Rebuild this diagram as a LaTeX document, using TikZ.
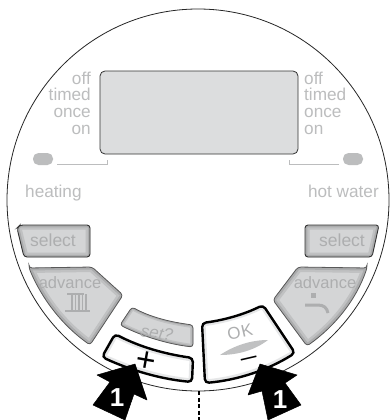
\documentclass[tikz,border=0pt]{standalone}
\usepackage{fontspec}
\setmainfont{Liberation Sans}
\definecolor{labelgrey}{HTML}{BCBDBE}
\definecolor{screengrey}{HTML}{DCDDDE}
\definecolor{keytext}{HTML}{ADAEAF}
\definecolor{keyouter}{HTML}{ABACAD}
\definecolor{keymid}{HTML}{C0C1C2}
\definecolor{keyinner}{HTML}{D4D5D6}
\definecolor{whiteedge}{HTML}{E6E7E8}
\tikzset{
  labeltext/.style={inner sep=0pt,text=labelgrey,font=\fontsize{17.2}{18}\selectfont},
  keylabel/.style={inner sep=0pt,text=keytext,font=\fontsize{16.5}{17}\selectfont},
  bracket/.style={draw=labelgrey,line width=1pt},
  bigarrow/.style={fill=black,draw=black,line width=0.5pt,line join=round},
  arrownum/.style={inner sep=0pt,text=white,font=\fontsize{26}{26}\bfseries\selectfont},
}
% key body: fill, bevel bands kept inside the outline, then the outline
\newcommand{\greykey}[3]{%
  \fill[keyinner,rounded corners=3] #1;
  \begin{scope}
    \clip[rounded corners=3] #1;
    \draw[keymid,line width=2*#3] #1;
    \draw[keyouter,line width=#3] #1;
  \end{scope}
  \draw[#2,rounded corners=3] #1;}
\newcommand{\whitekey}[1]{%
  \fill[white,rounded corners=4] #1;
  \begin{scope}
    \clip[rounded corners=4] #1;
    \draw[whiteedge,line width=7pt] #1;
  \end{scope}
  \draw[black,line width=2.4pt,rounded corners=4] #1;}
\begin{document}
\begin{tikzpicture}[x=1pt,y=-1pt]
  \useasboundingbox (0,0) rectangle (390,420);
  \fill[white] (0,0) rectangle (390,420);
  % case
  \coordinate (centre) at (198,200);
  \draw[black!85,line width=0.8pt] (centre) circle[radius=191];
  \coordinate (dashtop) at (199,391);
  \coordinate (dashend) at (199,420);
  \draw[black,line width=2pt,dash pattern=on 4pt off 2.5pt] (dashtop) -- (dashend);
  % display
  \node[draw=black!80,fill=screengrey,line width=0.8pt,rounded corners=5,minimum width=198pt,minimum height=83pt,inner sep=0pt] (screen) at (199,112.5) {};
  \node[labeltext,anchor=base east] (offheat) at (91,84) {off};
  \node[labeltext,anchor=base east] (timedheat) at (91,100.5) {timed};
  \node[labeltext,anchor=base east] (onceheat) at (91,117.5) {once};
  \node[labeltext,anchor=base east] (onheat) at (91,134) {on};
  \node[labeltext,anchor=base west] (offwater) at (304,84) {off};
  \node[labeltext,anchor=base west] (timedwater) at (304,100.5) {timed};
  \node[labeltext,anchor=base west] (oncewater) at (304,117.5) {once};
  \node[labeltext,anchor=base west] (onwater) at (304,134) {on};
  % lamps
  \node[fill=labelgrey,rounded corners=5.5,minimum width=20pt,minimum height=12pt,inner sep=0pt] (lampheat) at (43,159) {};
  \node[fill=labelgrey,rounded corners=5.5,minimum width=20pt,minimum height=12pt,inner sep=0pt] (lampwater) at (353,159) {};
  \draw[bracket] (57,164) -- (107,164) -- (107,160);
  \draw[bracket] (339,164) -- (289,164) -- (289,160);
  \node[labeltext,anchor=base west] (heating) at (25,197) {heating};
  \node[labeltext,anchor=base east] (hotwater) at (379,197) {hot water};
  % grey keys
  \greykey{(17,228) -- (20,225) -- (90,225) -- (90,257) -- (24,257) -- cycle}{black!80,line width=0.9pt}{4.5pt}
  \greykey{(305,225) -- (379,225) -- (372,257) -- (305,257) -- cycle}{black!80,line width=0.9pt}{4.5pt}
  \greykey{(29,268) -- (92,267) -- (123,295) -- (90,345) .. controls (62,325) and (42,299) .. (29,268) -- cycle}{black!65,line width=0.8pt}{5pt}
  \greykey{(367,268) -- (298,267) -- (273,300) -- (307,346) .. controls (335,326) and (356,300) .. (367,268) -- cycle}{black!65,line width=0.8pt}{5pt}
  \greykey{(132,307) .. controls (150,317) and (170,322) .. (193,325) -- (193,347) .. controls (167,344) and (142,336) .. (120,325) -- cycle}{black!65,line width=0.8pt}{3pt}
  \node[keylabel,anchor=base,font=\fontsize{17.5}{18}\selectfont] (selectheat) at (53,246) {select};
  \node[keylabel,anchor=base,font=\fontsize{17.5}{18}\selectfont] (selectwater) at (342,246) {select};
  \node[keylabel,anchor=base] (advheat) at (70,288) {advance};
  \node[keylabel,anchor=base] (advwater) at (325,288) {advance};
  \node[keylabel,font=\fontsize{17}{18}\itshape\selectfont,rotate=-9] (setkey) at (157,333) {set?};
  % radiator and tap
  \draw[keytext,line width=1.1pt] (67,294) -- (84,294) (65,311) -- (90,311)
    (72,294) -- (72,311) (75.5,294) -- (75.5,311) (79,294) -- (79,311) (82.5,294) -- (82.5,311) (86,294) -- (86,311);
  \fill[keytext] (311,293) rectangle (316,298);
  \draw[keytext,line width=3pt] (305,305) -- (318,305) .. controls (324,305) and (327,308) .. (328,313);
  % white keys
  \whitekey{(115,334) .. controls (140,347) and (165,354) .. (193,358) -- (192,382) .. controls (160,379) and (130,370) .. (102,357) -- cycle}
  \whitekey{(202,323) .. controls (225,320) and (245,314) .. (263,305) -- (295,353) .. controls (268,370) and (238,380) .. (205,383) -- cycle}
  \node[inner sep=0pt,text=black,font=\fontsize{34}{34}\selectfont,rotate=-10] (plus) at (146,362) {+};
  \node[keylabel,font=\fontsize{17}{18}\addfontfeature{LetterSpace=5}\selectfont,rotate=13] (okkey) at (240,332) {OK};
  \fill[keymid] (220,355) .. controls (235,345) and (252,340) .. (268,340) .. controls (255,350) and (238,355) .. (220,355) -- cycle;
  \node[inner sep=0pt,text=black,font=\fontsize{16}{16}\bfseries\selectfont,rotate=13] (minus) at (249,360) {—};
  % pointers
  \draw[bigarrow] (135,364) -- (147,400) -- (134,394) -- (125,420) -- (93,405) -- (110,382) -- (97,375) -- cycle;
  \draw[bigarrow] (260,364) -- (297,375) -- (285,383) -- (301,405) -- (268,420) -- (262,391) -- (248,395) -- cycle;
  \node[arrownum] (oneleft) at (117,398) {1};
  \node[arrownum] (oneright) at (280,400) {1};
\end{tikzpicture}
\end{document}
